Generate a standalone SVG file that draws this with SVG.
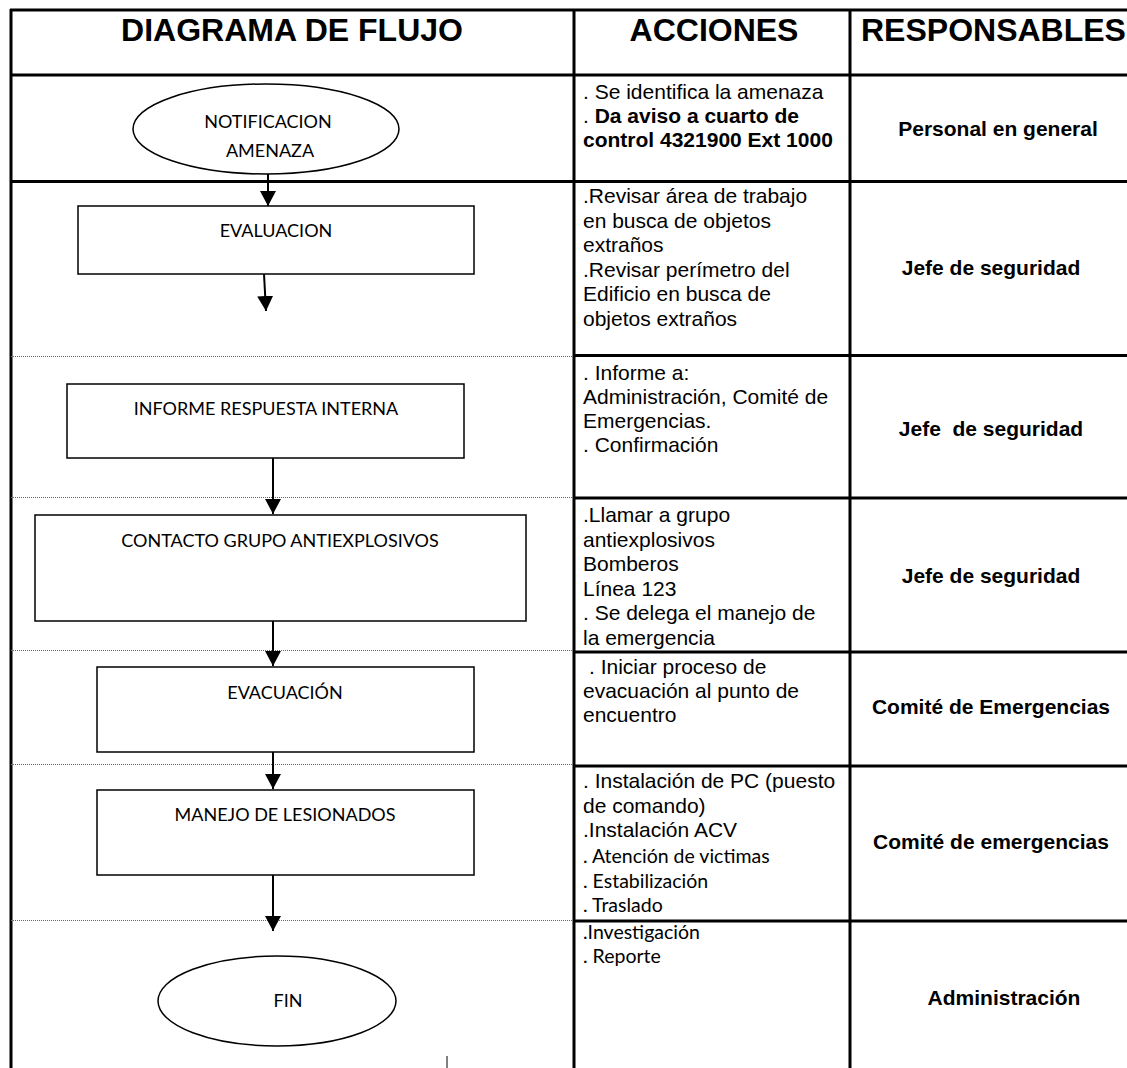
<svg xmlns="http://www.w3.org/2000/svg" width="1127" height="1068" viewBox="0 0 1127 1068">
<style>
.bg{fill:#fff}
.thick{stroke:#000;stroke-width:3;fill:none}
.dot{stroke:#666;stroke-width:1;stroke-dasharray:1 1;fill:none}
.hdr{font-family:"Liberation Sans",Arial,sans-serif;font-weight:bold;font-size:32px;fill:#000}
.act{font-family:"Liberation Sans",Arial,sans-serif;font-size:21px;fill:#000}
.b{font-weight:bold}
.cal{font-family:Lato,"Noto Sans",sans-serif;font-size:19.5px;fill:#000}
.resp{font-family:"Liberation Sans",Arial,sans-serif;font-weight:bold;font-size:21px;fill:#000;text-anchor:middle}
.shape{fill:#fff;stroke:#000;stroke-width:1.5}
.lbl{font-family:Lato,"Noto Sans",sans-serif;font-size:18px;fill:#000;text-anchor:middle}
.conn{stroke:#000;stroke-width:2;fill:none}
</style>
<defs>
<marker id="arr" viewBox="0 0 15 16" refX="15" refY="8" markerWidth="15" markerHeight="16" markerUnits="userSpaceOnUse" orient="auto">
<path d="M0,0 L15,8 L0,16 Z" fill="#000"/>
</marker>
</defs>
<rect class="bg" x="0" y="0" width="1127" height="1068"/>

<g id="table">
<line class="thick" x1="11" y1="9" x2="11" y2="1068"/>
<line class="thick" x1="574" y1="9" x2="574" y2="1068"/>
<line class="thick" x1="850" y1="9" x2="850" y2="1068"/>
<line class="thick" x1="10" y1="10" x2="1127" y2="10"/>
<line class="thick" x1="10" y1="75" x2="1127" y2="75"/>
<line class="thick" x1="10" y1="181.5" x2="1127" y2="181.5"/>
<line class="dot" x1="11" y1="356.5" x2="573" y2="356.5"/>
<line class="thick" x1="573" y1="355.5" x2="1127" y2="355.5"/>
<line class="dot" x1="11" y1="497.5" x2="573" y2="497.5"/>
<line class="thick" x1="573" y1="498" x2="1127" y2="498"/>
<line class="dot" x1="11" y1="650.5" x2="573" y2="650.5"/>
<line class="thick" x1="573" y1="652" x2="1127" y2="652"/>
<line class="dot" x1="11" y1="764.5" x2="573" y2="764.5"/>
<line class="thick" x1="573" y1="766" x2="1127" y2="766"/>
<line class="dot" x1="11" y1="920.5" x2="573" y2="920.5"/>
<line class="thick" x1="573" y1="921" x2="1127" y2="921"/>
</g>

<g id="headers">
<text class="hdr" x="292" y="41" text-anchor="middle">DIAGRAMA DE FLUJO</text>
<text class="hdr" x="714" y="41" text-anchor="middle">ACCIONES</text>
<text class="hdr" x="861" y="41">RESPONSABLES</text>
</g>

<g id="connectors">
<line class="conn" x1="268" y1="174" x2="268" y2="206" marker-end="url(#arr)"/>
<line class="conn" x1="264" y1="274" x2="266" y2="311" marker-end="url(#arr)"/>
<line class="conn" x1="273" y1="458" x2="273" y2="514" marker-end="url(#arr)"/>
<line class="conn" x1="273" y1="621" x2="273" y2="666" marker-end="url(#arr)"/>
<line class="conn" x1="273" y1="752" x2="273" y2="789" marker-end="url(#arr)"/>
<line class="conn" x1="273" y1="875" x2="273" y2="931" marker-end="url(#arr)"/>
<line stroke="#000" stroke-width="1" x1="447" y1="1056" x2="447" y2="1068"/>
</g>

<g id="node-notificacion">
<ellipse class="shape" cx="266" cy="129" rx="133" ry="45"/>
<text class="lbl" x="268" y="128">NOTIFICACION</text>
<text class="lbl" x="270" y="157">AMENAZA</text>
</g>
<g id="node-evaluacion">
<rect class="shape" x="78" y="206" width="396" height="68"/>
<text class="lbl" x="276" y="237">EVALUACION</text>
</g>
<g id="node-informe">
<rect class="shape" x="67" y="384" width="397" height="74"/>
<text class="lbl" x="266" y="415">INFORME RESPUESTA INTERNA</text>
</g>
<g id="node-contacto">
<rect class="shape" x="35" y="515" width="491" height="106"/>
<text class="lbl" x="280" y="547">CONTACTO GRUPO ANTIEXPLOSIVOS</text>
</g>
<g id="node-evacuacion">
<rect class="shape" x="97" y="667" width="377" height="85"/>
<text class="lbl" x="285" y="699">EVACUACIÓN</text>
</g>
<g id="node-manejo">
<rect class="shape" x="97" y="790" width="377" height="85"/>
<text class="lbl" x="285" y="821">MANEJO DE LESIONADOS</text>
</g>
<g id="node-fin">
<ellipse class="shape" cx="277" cy="1001" rx="119" ry="45"/>
<text class="lbl" x="288" y="1007">FIN</text>
</g>

<g id="acciones">
<text class="act" x="583" y="99">. Se identifica la amenaza</text>
<text class="act" x="583" y="123">. <tspan class="b">Da aviso a cuarto de</tspan></text>
<text class="act b" x="583" y="147">control 4321900 Ext 1000</text>

<text class="act" x="583" y="203">.Revisar área de trabajo</text>
<text class="act" x="583" y="227.5">en busca de objetos</text>
<text class="act" x="583" y="252">extraños</text>
<text class="act" x="583" y="276.5">.Revisar perímetro del</text>
<text class="act" x="583" y="301">Edificio en busca de</text>
<text class="act" x="583" y="325.5">objetos extraños</text>

<text class="act" x="583" y="380">. Informe a:</text>
<text class="act" x="583" y="404">Administración, Comité de</text>
<text class="act" x="583" y="428">Emergencias.</text>
<text class="act" x="583" y="452">. Confirmación</text>

<text class="act" x="583" y="522">.Llamar a grupo</text>
<text class="act" x="583" y="546.5">antiexplosivos</text>
<text class="act" x="583" y="571">Bomberos</text>
<text class="act" x="583" y="595.5">Línea 123</text>
<text class="act" x="583" y="620">. Se delega el manejo de</text>
<text class="act" x="583" y="644.5">la emergencia</text>

<text class="act" x="589" y="674">. Iniciar proceso de</text>
<text class="act" x="583" y="698">evacuación al punto de</text>
<text class="act" x="583" y="722">encuentro</text>

<text class="act" x="583" y="788">. Instalación de PC (puesto</text>
<text class="act" x="583" y="813">de comando)</text>
<text class="act" x="583" y="837">.Instalación ACV</text>
<text class="cal" x="583" y="863">. Atención de victimas</text>
<text class="cal" x="583" y="888">. Estabilización</text>
<text class="cal" x="583" y="912">. Traslado</text>

<text class="cal" x="583" y="939">.Investigación</text>
<text class="cal" x="583" y="963">. Reporte</text>
</g>

<g id="responsables">
<text class="resp" x="998" y="136">Personal en general</text>
<text class="resp" x="991" y="275">Jefe de seguridad</text>
<text class="resp" x="991" y="436" xml:space="preserve">Jefe  de seguridad</text>
<text class="resp" x="991" y="583">Jefe de seguridad</text>
<text class="resp" x="991" y="714">Comité de Emergencias</text>
<text class="resp" x="991" y="849">Comité de emergencias</text>
<text class="resp" x="1004" y="1005">Administración</text>
</g>
</svg>
